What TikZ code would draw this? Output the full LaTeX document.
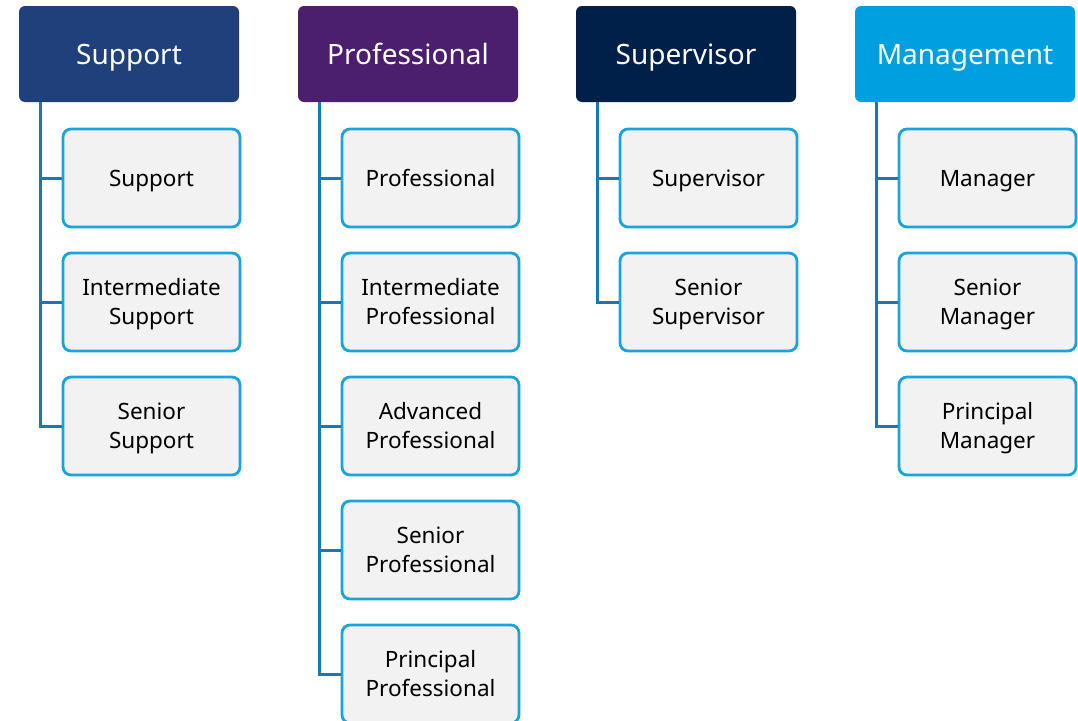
\documentclass[tikz,border=0pt]{standalone}
\usepackage{fontspec}
\setmainfont{Noto Sans}
\begin{document}
\begin{tikzpicture}[x=1pt,y=-1pt,
  head/.style={rounded corners=6pt, minimum width=220pt, minimum height=96pt,
    inner sep=0pt, text=white, text height=20pt, text depth=0pt,
    font=\fontsize{28}{32}\selectfont},
  item/.style={draw=itemedge, line width=2.8pt, fill=itemfill, rounded corners=8pt,
    minimum width=177pt, minimum height=98pt, inner sep=0pt, align=center,
    text height=16pt, text depth=0pt,
    font=\fontsize{22.5}{29}\selectfont},
  item2/.style={item, text height=45pt},
  conn/.style={draw=connblue, line width=3pt}
]
\definecolor{supportblue}{HTML}{1F407A}
\definecolor{profpurple}{HTML}{4B1E6E}
\definecolor{supernavy}{HTML}{00204A}
\definecolor{mgmtblue}{HTML}{009FDF}
\definecolor{itemedge}{HTML}{1BA3DE}
\definecolor{itemfill}{HTML}{F2F2F2}
\definecolor{connblue}{HTML}{1679B4}
\useasboundingbox (0,0) rectangle (1078,720);
\clip (0,0) rectangle (1078,720);

% column headers
\node[head, fill=supportblue] (h1) at (129,54) {Support};
\node[head, fill=profpurple]  (h2) at (408,54) {Professional};
\node[head, fill=supernavy]   (h3) at (686,54) {Supervisor};
\node[head, fill=mgmtblue]    (h4) at (965,54) {Management};

% trunk tops under each header
\coordinate (t1) at (40,102);
\coordinate (t2) at (319,102);
\coordinate (t3) at (597,102);
\coordinate (t4) at (876,102);

% Support column
\node[item]  (c11) at (151.5,178) {Support};
\node[item2] (c12) at (151.5,302) {Intermediate\\Support};
\node[item2] (c13) at (151.5,426) {Senior\\Support};

% Professional column
\node[item]  (c21) at (430.5,178) {Professional};
\node[item2] (c22) at (430.5,302) {Intermediate\\Professional};
\node[item2] (c23) at (430.5,426) {Advanced\\Professional};
\node[item2] (c24) at (430.5,550) {Senior\\Professional};
\node[item2] (c25) at (430.5,674) {Principal\\Professional};

% Supervisor column
\node[item]  (c31) at (708.5,178) {Supervisor};
\node[item2] (c32) at (708.5,302) {Senior\\Supervisor};

% Management column
\node[item]  (c41) at (987.5,178) {Manager};
\node[item2] (c42) at (987.5,302) {Senior\\Manager};
\node[item2] (c43) at (987.5,426) {Principal\\Manager};

% connectors
\foreach \c in {c11,c12,c13} \draw[conn] (t1) |- (\c.west);
\foreach \c in {c21,c22,c23,c24,c25} \draw[conn] (t2) |- (\c.west);
\foreach \c in {c31,c32} \draw[conn] (t3) |- (\c.west);
\foreach \c in {c41,c42,c43} \draw[conn] (t4) |- (\c.west);
\end{tikzpicture}
\end{document}
